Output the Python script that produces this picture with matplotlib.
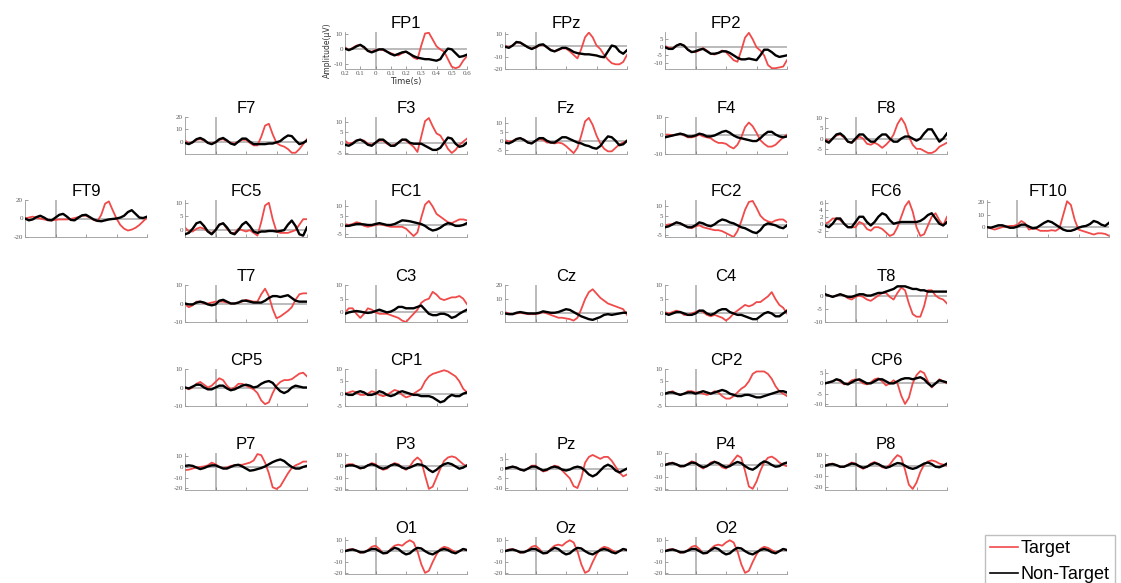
import numpy as np
import matplotlib
matplotlib.use('Agg')
import matplotlib.pyplot as plt
from matplotlib.lines import Line2D

# ── Data: grand-average ERPs, sampled every 25 ms from -0.2 s to 0.6 s ──
times = np.linspace(-0.2, 0.6, 33)

FP1_t = [1, -1, 0.5, 2, 2.5, 0.5, -1.5, -2, -1, -0.5, -1, -2, -3, -4, -4.5, -3, -2, -3.5, -6, -7, 2, 10, 10.5, 6, 1.5, -0.5, -2, -7, -12, -13, -12, -8, -5]
FP1_n = [0, -1, 0, 1.5, 2.5, 1, -1.5, -2.5, -1.5, -0.5, -0.5, -2, -3.5, -4.5, -3.5, -2.5, -2, -3.5, -5, -6, -6.5, -7, -7, -7.5, -8, -7, -3, 0, -0.5, -3, -5.5, -5, -4]
FPz_t = [0, -1.5, 0, 2.5, 2.5, 0.5, -1.5, -2.5, -2, 0, 0.5, -1.5, -3.5, -5, -4, -2.5, -2.5, -5, -8, -11, -3, 7, 11, 7, 0, -3, -8, -12, -15, -16, -16, -14, -8]
FPz_n = [-1, -2, 0, 3, 2.5, 0.5, -1.5, -3, -1.5, 0.5, 1, -1.5, -4, -5, -3.5, -2, -2, -3.5, -5.5, -6.5, -7, -7.5, -7.5, -8, -8.5, -9.5, -10, -5, 0, -1, -5, -7, -4]
FP2_t = [1, -0.5, -0.5, 1, 2, 1, -1.5, -3, -3, -2, -0.5, -2, -4, -4.5, -3.5, -2, -3, -5.5, -8, -9, -2, 6, 9, 5, 0, -2, -5, -11, -13, -13, -12.5, -12, -8]
FP2_n = [0, -1, -1, 1, 2, 1, -1.5, -3, -2.5, -1.5, -1, -2.5, -4, -4, -3.5, -2.5, -2.5, -3.5, -5, -6.5, -7.5, -7.5, -7, -7.5, -8, -5, -1.5, -1.5, -3, -5, -6, -5.5, -5]

F7_t = [1, -1.5, -0.5, 1.5, 2, 1, -1, -1.5, -0.5, 1.5, 2, 0.5, -1, -1.5, 0, 1.5, 1.5, -1, -3, -3, 4, 13, 14.5, 6, -1, -3, -4, -6, -9, -9, -6, -2, 2]
F7_n = [-1, -2, -0.5, 2, 3, 1.5, -1, -2, -0.5, 2, 3, 1, -1.5, -2.5, 0, 2.5, 2.5, 0, -2, -2, -2, -2, -1.5, -1.5, -0.5, 0.5, 3, 5, 4.5, 1, -2, -1, 1]
F3_t = [1, -0.5, 0, 1, 1.5, 1, -0.5, -1, 0, 1, 1, -0.5, -1.5, -1, 0, 1.5, 1, -0.5, -2, -4.5, 3, 10.5, 12, 8, 4.5, 3.5, 0.5, -3, -5, -3.5, -1, 0.5, 2]
F3_n = [-1, -1.5, -0.5, 1, 1.5, 0.5, -1, -1.5, 0, 1.5, 1.5, 0, -1.5, -1.5, 0, 1.5, 1.5, 0, -0.5, -0.5, -0.5, -1.5, -2.5, -3.5, -3.5, -2.5, 0, 2.5, 2, -0.5, -2, -1.5, 0]
Fz_t = [0.5, -0.5, 0, 1, 1.5, 0.5, -1, -1.5, 0, 1, 0.5, -1, -1, -1.5, -1, -1.5, -3, -5, -7, -4, 3, 11, 13, 9, 3, -1.5, -4.5, -6, -6, -4, -2, -1, 0]
Fz_n = [-1, -1.5, -0.5, 1, 1.5, 0.5, -1, -1.5, 0, 1.5, 1.5, 0, -1, -1, 0.5, 2, 2, 1, 0, -1, -1.5, -2.5, -3, -4, -4.5, -3, 0, 2.5, 2, 0, -2.5, -2, 0]
F4_t = [0.5, 0.5, 0, 0.5, 1, 0, -1, -1, -0.5, 0.5, -0.5, -1, -1.5, -3, -4, -4, -4.5, -6, -7, -5, -1, 4.5, 7, 5, 1.5, -2.5, -4.5, -6, -6, -5, -3, -1, 0.5]
F4_n = [-1, -0.5, 0, 0.5, 1, 0.5, -0.5, -0.5, 0, 1, 0.5, -0.5, -0.5, 0, 1, 2, 2.5, 1.5, 0, -1, -1.5, -2, -2.5, -3, -3, -1.5, 0.5, 2, 2, 0.5, -0.5, -1, -0.5]
F8_t = [0, -1.5, 0, 1.5, 2, 0.5, -1.5, -2, -0.5, 1, 0, -2.5, -3, -2, -3, -4.5, -3, -1, 2, 7, 10, 7, 1, -3, -5, -5, -6, -7, -7, -6, -4, -3, -2]
F8_n = [-1, -2, 0, 2, 2.5, 1, -1.5, -2, 0, 2, 2, 0, -1.5, -1.5, 0.5, 2, 2, 0, -1.5, -1.5, 0, 1, 1, 0, -1, 0, 2.5, 4.5, 4.5, 1.5, -1.5, 0, 2.5]

FT9_t = [0, 1, 2, 1, 0, -1, -2, -2, -1.5, -1, -1, -1, -0.5, 0.5, 1.5, 3, 3, 1, -1.5, -3, 4, 16, 18.5, 9, 0, -7, -11, -13, -12, -10, -7, -3, 1]
FT9_n = [0, -2, -1, 1.5, 3, 1, -1.5, -2, 1, 4, 5, 2, -1.5, -2, 1, 3.5, 4, 1.5, -1, -2.5, -3, -2, -1, -0.5, 0, 1, 3, 7, 9, 5, 1, 0.5, 2]
FC5_t = [1, -0.5, -0.5, 0.5, 1, 0.5, -0.5, -1, 0, 2, 2.5, 0.5, -1, -1, 0.5, 0, -0.5, 0, -1, -2, 3, 9, 10, 4, -0.5, -1, -1, -1, -0.5, 0, 2, 4, 4]
FC5_n = [-1.5, -1, 0.5, 2.5, 3, 1.5, -0.5, -1.5, 0, 2, 2.5, 1, -1, -1.5, 0, 2, 3, 1.5, -0.5, -1, -0.5, -0.5, -0.3, -0.3, -0.5, -0.3, 0, 2, 3.5, 1.5, -1.5, -2, 1]
FC1_t = [0.5, 0, 0.5, 1.5, 1, -0.5, -1, -0.5, 0, 0.5, 0, -0.5, -1, -1, -1, -1, -2, -4, -6, -4, 4, 11, 13, 10, 6, 4.5, 3, 1.5, 1, 2, 3, 3, 2.5]
FC1_n = [-0.5, -0.5, 0, 0.5, 0.5, 0.3, 0, 0, 0.5, 1, 0.5, 0, 0, 0.5, 1.5, 2.5, 2.3, 2, 1.5, 1, 0.5, -0.5, -2, -3, -2.5, -1.5, 0, 1, 0.5, -0.5, -0.5, 0, 1]
FC2_t = [0, 0.5, 0.5, 1.5, 1, 0, -1, -1.5, -0.5, 0, -1, -1.5, -2, -2.5, -2.5, -3, -4, -5, -6, -3, 2, 8, 12, 12.5, 9, 5, 3, 2, 1.5, 2.5, 3, 3, 1.5]
FC2_n = [-1, -0.5, 0.5, 1.5, 1, 0, -1, -1, 0, 1.5, 1, 0, -0.5, 0.5, 2, 3, 2.5, 1.5, 1, 0, -1, -1.5, -2.5, -3.5, -4, -2.5, 0, 1, 0.5, 0, -1, -1.5, 0]
FC6_t = [0, 0.5, 1.5, 1.5, 1, 0, -1, -1, -1, 0.5, 0, -1.5, -2, -1, -1, -1.5, -2.5, -3.5, -3, -1, 2, 5, 6.5, 3.5, -1, -3.5, -3, -0.5, 2, 3, 1, -0.5, 2]
FC6_n = [-0.5, -1, 0, 1.5, 1.5, 0, -1, -1, 0.5, 2, 2, 0.5, -0.5, 0.5, 2, 3, 2.5, 1, 0, 0.3, 0.5, 0.5, 0.5, 0.5, 0.5, 0.8, 1.5, 2.5, 3, 1.5, 0, -0.5, 0.5]
FT10_t = [0, -1, -2, -1, 0, 0.5, 1, 1, 2, 5, 3, -2, -1, -1.5, -3, -3, -3, -2.5, -3, -1, 10, 21, 18, 6, -2, -3, -4, -5, -6, -5, -5, -5.5, -7]
FT10_n = [0, -0.5, 0.5, 1.5, 1.5, 0.5, -0.5, -0.5, 0.5, 2, 2, 0.5, -1, -0.5, 1.5, 3.5, 5, 4, 2, 0, -2, -3, -3, -2, -0.5, 0.5, 1, 2.5, 5, 4, 2, 1, 3.5]

T7_t = [-0.5, -2, -1, 1, 1, 0, 0, 0.5, 1, 1, 1, 0.5, 0, 0, 0.5, 1, 2, 1.5, 1, 1, 5, 8, 4, -3, -8, -7, -5.5, -4, -2, 2, 5, 5.5, 5.5]
T7_n = [0, -0.5, -0.5, 0.5, 1, 0.5, -0.5, -1, -0.5, 1.5, 2, 1, 0, 0, 0.5, 1.5, 1.5, 1, 0.5, 0.5, 0.5, 1.5, 3, 4, 4, 3.5, 4, 4.5, 3, 1.5, 1, 1, 1]
C3_t = [0, 1.5, 1.5, -0.5, -2, -0.5, 1.5, 1, 0, -0.5, -0.5, -0.5, -1, -1.5, -2, -3, -3.5, -2, -0.5, 1, 3.5, 4.5, 5, 7.5, 6.5, 5, 4.5, 5, 5.5, 5.5, 6, 5, 3]
C3_n = [-0.5, 0, 0.3, 0.5, 0.3, 0, -0.2, 0, 0.5, 1, 0.5, 0, 0.3, 1, 2, 2, 1.5, 1.5, 1.5, 2, 2.5, 1, -0.5, -1, -1, -0.5, -0.5, -1, -2, -1.5, -0.5, 0.3, 1]
Cz_t = [1, 0, -0.5, 0, 0.5, 0, -0.5, -0.5, -0.5, 0, 1, 0, -1, -2, -3, -3, -3.5, -4, -5, -3, 3, 10, 15, 17, 14, 11, 9, 7, 6, 5, 4, 3, -1]
Cz_n = [0, -0.5, -0.5, 0.5, 1, 0.5, 0, 0, 0, 0.5, 1.5, 1, 0.5, 0.5, 1, 2, 3, 2.5, 1, -0.5, -2, -3, -4, -4.5, -3.5, -2.5, -1, -0.5, -1, -0.5, 0, 0.5, 0.5]
C4_t = [0.5, 0, 0.5, 1, 0.5, -0.5, -0.5, 0, 0.5, 1, 0.5, -0.5, -1, -0.5, -1, -1.5, -2.5, -1.5, 0, 1, 2, 3, 2.5, 3, 4, 4, 5, 6, 7.5, 5, 3, 2, 0]
C4_n = [0, -0.5, 0, 0.5, 0.5, 0, -0.5, -0.5, 0, 1, 1, 0, -0.5, 0, 1, 1.5, 1.5, 0.5, 0, -0.5, -0.5, -1, -1.5, -2, -2, -1, 0, 0.5, 0, -1, -1, 0, 1]
T8_t = [0.5, 0, -0.5, 0, 0.5, 0, -1, -1.5, -0.5, 0, -0.5, -1.5, -2, -1, 0, 1, 1, -0.5, -1.5, 1, 3, 2, -3, -7, -8, -8, -4, 2, 2, 0, -1, -1.5, -3]
T8_n = [0.5, 0, -0.5, 0, 0.5, 0, -0.5, -0.5, 0, 0.5, 0.5, 0, 0, 0.5, 1, 1, 1.5, 2, 2.5, 3.5, 3.5, 3.5, 3, 2.5, 2.5, 2, 2, 1.5, 1.5, 1.5, 1.5, 1.5, 1.5]

CP5_t = [0, -1, 0, 2, 3, 1.5, 0, 1, 3, 5, 4, 1, -1, 0, 2, 2, 1, 0, -1, -3, -7, -9, -8, -3, 1, 3, 4, 4, 4.5, 6, 7.5, 8, 6]
CP5_n = [0, -0.5, 0.5, 1.5, 1.5, 0, -1, -1, 0, 1, 1, -0.5, -1.5, -1, 0, 1, 1.5, 1, 0, 0.5, 2, 3, 3.5, 2.5, 0, -2, -3, -2, 0, 1, 0.5, 0, 0]
CP1_t = [0, 0.5, 1, 0.5, -0.5, -0.5, 0, 1, 0.5, -0.5, -1, -0.5, 0.5, 1.5, 1, -0.5, -1.5, -1, 0, 1, 2, 5, 7, 8, 8.5, 9, 9.5, 9, 8, 7, 5, 2, 0.5]
CP1_n = [0, -0.5, -0.5, 0.5, 1, 0.5, -0.5, -0.5, 0, 1, 0.5, -0.5, -1, -0.5, 0.5, 1, 0.5, 0, -0.5, -0.5, -1, -1, -1, -1.5, -2.5, -3.5, -3, -1.5, -0.5, -1, -1, 0, 0.5]
CP2_t = [0, 0.5, 1, 0, -0.5, 0, 1, 1, 0.5, 0.5, 0, -0.5, 0, 1, 0.5, -1, -2, -2, -1, 0.5, 2, 3, 5, 8, 9, 9, 9, 8, 6, 3, 1, 0, -1]
CP2_n = [0, 0.5, 0.5, 0, -0.5, 0, 0.5, 0.5, 0, 0.5, 1, 0.5, 0, 0.5, 1, 1.5, 1, 0, -0.5, -1, -1, -0.5, -0.5, -1, -1.5, -1.5, -1, -0.5, 0, 0.5, 1, 1, 0.5]
CP6_t = [0, 0.5, 1, 2, 1, -0.5, 0, 1.5, 2, 1.5, 0, -0.5, 0.5, 2, 2.5, 1, -1, 0, 1.5, 0, -6, -10, -7, 0, 4, 6, 5, 1, -2, 0, 2, 1, 0]
CP6_n = [0, 0.5, 1, 2, 1.5, 0, -0.5, 0.5, 1.5, 2, 1, 0, 0, 1, 2, 2, 1, 0, 0, 1, 2, 2.5, 2.5, 2, 2.5, 3, 2, 0, -1.5, 0, 1.5, 1, 0.5]

P7_t = [-3, -2.5, -1.5, -0.5, 0, 0.5, 1.5, 4, 2.5, 0, -1, -0.5, 1, 1.5, 2, 2, 3, 4, 6, 12, 11, 4, -6, -19, -20.5, -18, -12, -6, -1, 1.5, 3, 5, 5]
P7_n = [1, 1.5, 1, -0.5, -2, -1, 0.5, 1.5, 1.5, 0, -1.5, -1.5, 0, 1.5, 2, 0.5, -1.5, -3.5, -3, -2, -1, 0.5, 2.5, 4.5, 6, 7, 5.5, 2.5, 0, -1.5, -1.5, 0, 1]
P3_t = [1, 2, 2, 0, -2, -1, 1, 3, 2, -1, -3, -2, 1, 3, 2, -1, -3, 0, 5, 8, 5, -8, -20, -18, -10, -2, 5, 8, 9, 8, 5, 2, 0]
P3_n = [0, 1, 1, 0, -1.5, -1, 1, 2, 1, -1, -2, -1, 1, 2, 1, -1, -2, -1, 0.5, 2, 1.5, 0, -3, -5, -3, 0, 2, 3, 2, 0, -2, -1, 1]
Pz_t = [0, 0.5, 1, 0.5, -0.5, -1, 0, 1.5, 1.5, 0, -1.5, -1, 0.5, 1.5, 1, -1, -3, -5, -9, -10, -5, 3, 6, 7, 6, 5, 6, 6, 4, 1, -2, -4, -3]
Pz_n = [0, 0.5, 1, 0.5, -0.5, -1, 0, 1, 1, 0, -1, -0.5, 0.5, 1, 0.5, -0.5, -1, -0.5, 0.5, 1, 0.5, -1, -3, -4, -3, -1, 1, 2, 1, -1, -2, -1, 0]
P4_t = [0, 1.5, 2, 0.5, -1.5, -1, 1, 3, 2, -1, -3, -1, 2, 3, 1, -2, -3, 0, 4, 8, 6, -5, -18, -20, -14, -5, 2, 6, 7, 5, 2, 0, -1]
P4_n = [0, 1, 1.5, 0.5, -1, -1, 0.5, 2, 1.5, -0.5, -2, -1, 1, 2.5, 1.5, -0.5, -2, -1, 1, 2.5, 1.5, -1, -3, -4, -2, 1, 3, 2, 0, -1.5, -1, 1, 2]
P8_t = [0, 1.5, 2, 0.5, -1.5, -1, 1, 3, 2, -1, -3, -1, 2, 3.5, 1.5, -1.5, -2, 1, 6, 10, 8, -4, -18, -22, -16, -6, 1, 4, 5, 4, 2, 1, 0]
P8_n = [0, 1, 1.5, 0.5, -1, -1, 0.5, 2, 1.5, -0.5, -2, -1, 1, 2.5, 1.5, -0.5, -2, -1, 1, 2.5, 2, 0, -2, -3, -2, 0, 2, 3, 1.5, -1, -1.5, 0, 2]

O1_t = [0, 1.5, 2, 0.5, -1.5, -1, 1, 4, 5, 2, -2, -2, 2, 5, 6, 5, 8, 10, 8, 0, -12, -20, -18, -10, -3, 2, 4, 3, 1, -1, 0, 2, 1]
O1_n = [0, 1, 1.5, 0.5, -1, -1, 0.5, 2, 2, 0, -2, -1.5, 1, 3, 2, -1, -3, -2, 1, 3, 2.5, 0, -2, -3, -1, 1, 2, 1, -1, -2, 0, 2, 1]
Oz_t = [0, 1.5, 2, 0.5, -1.5, -1, 1, 4, 5, 2, -2, -2, 2, 5, 6, 5, 8, 10, 8, 0, -12, -20, -18, -10, -3, 2, 4, 3, 1, -1, 0, 2, 1]
Oz_n = [0, 1, 1.5, 0.5, -1, -1, 0.5, 2, 2, 0, -2, -1.5, 1, 3, 2, -1, -3, -2, 1, 3, 2.5, 0, -2, -3, -1, 1, 2, 1, -1, -2, 0, 2, 1]
O2_t = [0, 1.5, 2, 0.5, -1.5, -1, 1, 4, 5, 2, -2, -2, 2, 5, 6, 5, 8, 10, 8, 0, -12, -20, -18, -10, -3, 2, 4, 3, 1, -1, 0, 2, 1]
O2_n = [0, 1, 1.5, 0.5, -1, -1, 0.5, 2, 2, 0, -2, -1.5, 1, 3, 2, -1, -3, -2, 1, 3, 2.5, 0, -2, -3, -1, 1, 2, 1, -1, -2, 0, 2, 1]

# channel name, grid row, grid column (10-20 montage layout)
channels = ['FP1', 'FPz', 'FP2',
            'F7', 'F3', 'Fz', 'F4', 'F8',
            'FT9', 'FC5', 'FC1', 'FC2', 'FC6', 'FT10',
            'T7', 'C3', 'Cz', 'C4', 'T8',
            'CP5', 'CP1', 'CP2', 'CP6',
            'P7', 'P3', 'Pz', 'P4', 'P8',
            'O1', 'Oz', 'O2']
rows = [0, 0, 0, 1, 1, 1, 1, 1, 2, 2, 2, 2, 2, 2, 3, 3, 3, 3, 3,
        4, 4, 4, 4, 5, 5, 5, 5, 5, 6, 6, 6]
cols = [2, 3, 4, 1, 2, 3, 4, 5, 0, 1, 2, 4, 5, 6, 1, 2, 3, 4, 5,
        1, 2, 4, 5, 1, 2, 3, 4, 5, 2, 3, 4]

yticks = {
    'FP1': [-10, 0, 10], 'FPz': [-20, -10, 0, 10], 'FP2': [-10, -5, 0, 5],
    'F7': [0, 10, 20], 'F3': [-5, 0, 5, 10], 'Fz': [-5, 0, 5, 10],
    'F4': [-10, 0, 10], 'F8': [-5, 0, 5, 10],
    'FT9': [-20, 0, 20], 'FC5': [0, 5, 10], 'FC1': [-5, 0, 5, 10],
    'FC2': [-5, 0, 5, 10], 'FC6': [-2, 0, 2, 4, 6], 'FT10': [0, 10, 20],
    'T7': [-10, 0, 10], 'C3': [0, 5, 10], 'Cz': [0, 10, 20],
    'C4': [0, 5, 10], 'T8': [-10, -5, 0],
    'CP5': [-10, 0, 10], 'CP1': [-5, 0, 5, 10], 'CP2': [-5, 0, 5, 10],
    'CP6': [-10, -5, 0, 5],
    'P7': [-20, -10, 0, 10], 'P3': [-20, -10, 0, 10], 'Pz': [-10, -5, 0, 5],
    'P4': [-20, -10, 0, 10], 'P8': [-20, -10, 0, 10],
    'O1': [-20, -10, 0, 10], 'Oz': [-20, -10, 0, 10], 'O2': [-20, -10, 0, 10],
}
ylims = {
    'FP1': (-13.5, 11), 'FPz': (-20, 11.5), 'FP2': (-13.5, 9.5),
    'F7': (-10, 20), 'F3': (-5.5, 12.5), 'Fz': (-7.5, 13.5),
    'F4': (-10, 10), 'F8': (-7.5, 10.5),
    'FT9': (-20, 20), 'FC5': (-2.5, 11), 'FC1': (-6.5, 13.5),
    'FC2': (-6, 13), 'FC6': (-3.8, 6.8), 'FT10': (-8, 22),
    'T7': (-10, 10), 'C3': (-3.5, 10), 'Cz': (-6, 20),
    'C4': (-3, 10), 'T8': (-10, 4),
    'CP5': (-10, 10), 'CP1': (-5, 10), 'CP2': (-3, 10), 'CP6': (-11, 7),
    'P7': (-21.5, 13), 'P3': (-21, 12), 'Pz': (-11, 8),
    'P4': (-21, 10), 'P8': (-23, 12),
    'O1': (-21, 13), 'Oz': (-21, 13), 'O2': (-21, 13),
}

waves = {name: (globals()[name + '_t'], globals()[name + '_n']) for name in channels}

# ── Layout (pixel positions of the little axes) ─────────────
W, H = 1121, 583
col_left = [25, 185, 345, 505, 665, 825, 987]
row_top = [32, 117, 200, 285, 369, 453, 537]
ax_w, ax_h = 122, 37

red = '#f04a4a'
grey = '#a8a8a8'

fig = plt.figure(figsize=(W / 100, H / 100), dpi=100)

for name, r, c in zip(channels, rows, cols):
    left = col_left[c] / W
    bottom = 1 - (row_top[r] + ax_h) / H
    ax = fig.add_axes([left, bottom, ax_w / W, ax_h / H])

    tgt, non = waves[name]
    # zero reference lines
    ax.axhline(0, color=grey, lw=1.1, zorder=1)
    ax.axvline(0, color=grey, lw=1.1, zorder=1)
    ax.plot(times, tgt, color=red, lw=1.3, zorder=2)
    ax.plot(times, non, color='black', lw=1.7, zorder=3)

    ax.set_xlim(-0.2, 0.6)
    ax.set_ylim(*ylims[name])
    ax.set_yticks(yticks[name])
    ax.set_yticklabels([str(v) for v in yticks[name]],
                       fontsize=5, family='Liberation Serif', color='#555555')

    if name == 'FP1':
        xt = np.round(np.arange(-0.2, 0.61, 0.1), 1)
        ax.set_xticks(xt)
        ax.set_xticklabels(['0.2', '0.1', '0', '0.1', '0.2', '0.3', '0.4', '0.5', '0.6'],
                           fontsize=5, family='Liberation Serif', color='#555555')
        ax.set_xlabel('Time(s)', fontsize=6, labelpad=1, color='#333333')
        ax.set_ylabel('Amplitude(μV)', fontsize=5.5, labelpad=1, color='#333333')
    else:
        ax.set_xticks([-0.2, 0, 0.2, 0.4, 0.6])
        ax.set_xticklabels([])

    ax.tick_params(direction='in', length=2, width=0.5, color='#777777', pad=1.5)
    for side in ['top', 'right']:
        ax.spines[side].set_visible(False)
    for side in ['left', 'bottom']:
        ax.spines[side].set_color('#999999')
        ax.spines[side].set_linewidth(0.6)
    ax.patch.set_alpha(0)

    ax.set_title(name, fontsize=12, family='Liberation Sans', pad=3)

# legend in the bottom-right corner (partly cut off like the original)
handles = [Line2D([], [], color=red, lw=1.2), Line2D([], [], color='black', lw=1.2)]
fig.legend(handles, ['Target', 'Non-Target'], loc='upper left',
           bbox_to_anchor=(985 / W, 1 - 535 / H),
           prop={'family': 'Liberation Sans', 'size': 13},
           frameon=True, fancybox=False, edgecolor='#b0b0b0',
           handlelength=1.5, handletextpad=0.15, labelspacing=0.5,
           borderpad=0.3, borderaxespad=0)

plt.savefig('out.png', dpi=100)
